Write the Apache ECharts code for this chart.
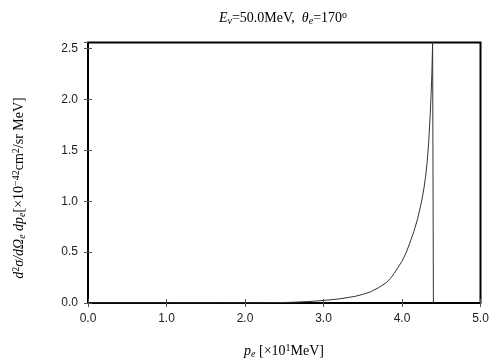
<!DOCTYPE html>
<html>
<head>
<meta charset="utf-8">
<script src="https://cdn.jsdelivr.net/npm/echarts@6/dist/echarts.min.js"></script>
<style>
  html, body { margin: 0; padding: 0; background: #fff; }
  #chart { width: 504px; height: 360px; }
</style>
</head>
<body>
<div id="chart"></div>
<script>
// electron momentum p_e [x10 MeV] and cross section [x10^-42 cm^2/sr MeV]
var pe = [0.0, 1.0, 2.0, 2.2, 2.4, 2.6, 2.8, 3.0, 3.2, 3.4, 3.5, 3.6, 3.7, 3.8, 3.85, 3.9, 3.95,
          4.0, 4.05, 4.1, 4.15, 4.2, 4.25, 4.28, 4.3, 4.32, 4.34, 4.36, 4.37, 4.38, 4.39, 4.40];
var sigma = [0, 0, 0.0005, 0.001, 0.003, 0.007, 0.014, 0.025, 0.04, 0.065, 0.085, 0.11, 0.15, 0.2, 0.24, 0.29, 0.35,
             0.41, 0.49, 0.59, 0.7, 0.83, 1.0, 1.13, 1.24, 1.38, 1.58, 1.86, 2.04, 2.24, 2.56, 0];
var xTicks = ['0.0', '1.0', '2.0', '3.0', '4.0', '5.0'];
var yTicks = ['0.0', '0.5', '1.0', '1.5', '2.0', '2.5'];

var chart = echarts.init(document.getElementById('chart'));

var lineData = [];
for (var i = 0; i < pe.length; i++) {
    lineData.push([pe[i], sigma[i]]);
}

var serif = 'Liberation Serif';
var sans = 'Liberation Sans';
var rich = {
    n: { fontFamily: serif, fontSize: 14, color: '#000', lineHeight: 16, verticalAlign: 'middle' },
    i: { fontFamily: serif, fontSize: 14, fontStyle: 'italic', color: '#000', lineHeight: 16, verticalAlign: 'middle' },
    sub: { fontFamily: serif, fontSize: 10, color: '#000', lineHeight: 16, verticalAlign: 'bottom' },
    isub: { fontFamily: serif, fontSize: 10, fontStyle: 'italic', color: '#000', lineHeight: 16, verticalAlign: 'bottom' },
    sup: { fontFamily: serif, fontSize: 10, color: '#000', lineHeight: 16, verticalAlign: 'top' }
};

// 坐标轴公共样式
function tickStyle() {
    return { show: true, inside: true, length: 4, lineStyle: { color: '#555', width: 1 } };
}

var option = {
    animation: false,
    grid: {
        left: 88,
        right: 23.5,
        top: 42.5,
        bottom: 57,
        show: true,
        borderColor: '#000',
        borderWidth: 2,
        backgroundColor: 'transparent'
    },
    xAxis: [
        {
            type: 'value',
            min: 0,
            max: 5,
            interval: 1,
            axisLine: { show: false },
            axisTick: tickStyle(),
            splitLine: { show: false },
            axisLabel: {
                margin: 10,
                color: '#222',
                fontFamily: sans,
                fontSize: 12,
                formatter: function (v) { return xTicks[Math.round(v)]; }
            }
        },
        {
            type: 'value',
            position: 'top',
            min: 0,
            max: 5,
            interval: 1,
            axisLine: { show: false },
            axisTick: tickStyle(),
            splitLine: { show: false },
            axisLabel: { show: false }
        }
    ],
    yAxis: [
        {
            type: 'value',
            min: 0,
            max: 2.56,
            interval: 0.5,
            axisLine: { show: false },
            axisTick: tickStyle(),
            splitLine: { show: false },
            axisLabel: {
                margin: 10,
                color: '#222',
                fontFamily: sans,
                fontSize: 12,
                showMaxLabel: false,
                formatter: function (v) {
                    var k = Math.round(v / 0.5);
                    return Math.abs(k * 0.5 - v) < 1e-6 ? yTicks[k] : '';
                }
            }
        },
        {
            type: 'value',
            position: 'right',
            min: 0,
            max: 2.56,
            interval: 0.5,
            axisLine: { show: false },
            axisTick: tickStyle(),
            splitLine: { show: false },
            axisLabel: { show: false }
        }
    ],
    series: [
        {
            type: 'line',
            xAxisIndex: 0,
            yAxisIndex: 0,
            data: lineData,
            symbol: 'none',
            smooth: false,
            lineStyle: { color: '#333', width: 1 }
        }
    ],
    graphic: [
        {
            type: 'text',
            x: 283,
            y: 18,
            style: {
                text: '{i|E}{isub|ν}{n|=50.0MeV,  }{i|θ}{isub|e}{n|=170}{sup|o}',
                rich: rich,
                align: 'center',
                verticalAlign: 'middle'
            }
        },
        {
            type: 'text',
            x: 284,
            y: 351,
            style: {
                text: '{i|p}{isub|e}{n| [×10}{sup|1}{n|MeV]}',
                rich: rich,
                align: 'center',
                verticalAlign: 'middle'
            }
        },
        {
            type: 'text',
            x: 19,
            y: 188,
            rotation: Math.PI / 2,
            style: {
                text: '{i|d}{sup|2}{i|σ/dΩ}{isub|e}{i| dp}{isub|e}{n|[×10}{sup|−42}{n|cm}{sup|2}{n|/sr MeV]}',
                rich: rich,
                align: 'center',
                verticalAlign: 'middle'
            }
        }
    ]
};

chart.setOption(option);
</script>
</body>
</html>
